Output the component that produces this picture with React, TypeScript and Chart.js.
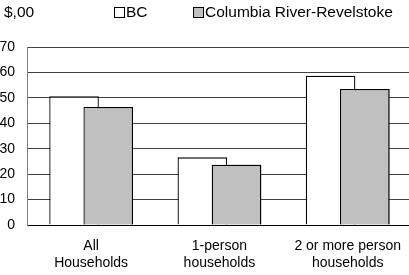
import { useEffect, useRef } from "react";
import { Chart, registerables } from "chart.js";

Chart.register(...registerables);

const unitLabel = "$,00";
const categories = [
  ["All", "Households"],
  ["1-person", "households"],
  ["2 or more person", "households"],
];
const seriesNames = ["BC", "Columbia River-Revelstoke"];
const bcValues = [50.6, 26.6, 58.7];
const crrValues = [46.4, 23.7, 53.5];
const yMin = 0;
const yMax = 70;
const yStep = 10;

const FONT = "'Liberation Sans', Arial, sans-serif";

const raiseSecond = {
  id: "raiseSecond",
  afterDatasetsDraw(chart: any) {
    const meta = chart.getDatasetMeta(1);
    if (meta && !meta.hidden) meta.controller.draw();
  },
};

const headerPlugin = {
  id: "header",
  afterDraw(chart: any) {
    const ctx = chart.ctx;
    ctx.save();
    ctx.font = `15.5px ${FONT}`;
    ctx.fillStyle = "#000";
    ctx.textBaseline = "middle";
    ctx.textAlign = "left";
    const y = 13;
    ctx.fillText(unitLabel, 4, y);
    let x = 114;
    chart.data.datasets.forEach((ds: any) => {
      ctx.fillStyle = ds.backgroundColor;
      ctx.fillRect(x + 0.5, y - 5.5, 10, 10);
      ctx.strokeStyle = "#000";
      ctx.lineWidth = 1;
      ctx.strokeRect(x + 0.5, y - 5.5, 10, 10);
      ctx.fillStyle = "#000";
      ctx.fillText(ds.label, x + 12, y);
      x += 12 + ctx.measureText(ds.label).width + 45.5;
    });
    ctx.restore();
  },
};

export default function App() {
  const ref = useRef<HTMLCanvasElement | null>(null);

  useEffect(() => {
    if (!ref.current) return;
    const chart = new Chart(ref.current, {
      type: "bar",
      data: {
        labels: categories,
        datasets: [
          {
            label: seriesNames[0],
            data: bcValues,
            backgroundColor: "#ffffff",
            borderColor: "#000000",
            borderWidth: 1.3,
          },
          {
            label: seriesNames[1],
            data: crrValues,
            backgroundColor: "#c0c0c0",
            borderColor: "#000000",
            borderWidth: 1.3,
          },
        ],
      },
      options: {
        responsive: false,
        animation: false,
        layout: { padding: { top: 47, left: 0, right: 0, bottom: 0 } },
        datasets: {
          bar: { categoryPercentage: 0.533, barPercentage: 1.45 },
        },
        plugins: {
          legend: { display: false },
          title: { display: false },
          tooltip: { enabled: false },
        },
        scales: {
          x: {
            grid: { display: false, drawTicks: false },
            border: { color: "#000000", width: 1 },
            ticks: {
              color: "#000",
              font: { family: FONT, size: 14 },
              padding: 13,
              maxRotation: 0,
              autoSkip: false,
            },
            afterFit(scale: any) {
              scale.height = 50;
            },
          },
          y: {
            min: yMin,
            max: yMax,
            grid: { color: "#404040", lineWidth: 1, drawTicks: false },
            border: { color: "#808080", width: 1 },
            ticks: {
              stepSize: yStep,
              color: "#000",
              font: { family: FONT, size: 14 },
              padding: 12,
            },
            afterFit(scale: any) {
              scale.width = 27;
            },
          },
        },
      },
      plugins: [raiseSecond, headerPlugin],
    });
    return () => chart.destroy();
  }, []);

  return (
    <div
      style={{
        position: "fixed",
        left: 0,
        top: 0,
        width: 409,
        height: 275,
        overflow: "hidden",
        background: "#fff",
      }}
    >
      <canvas
        ref={ref}
        width={414}
        height={275}
        style={{ width: 414, height: 275, display: "block" }}
      />
    </div>
  );
}
